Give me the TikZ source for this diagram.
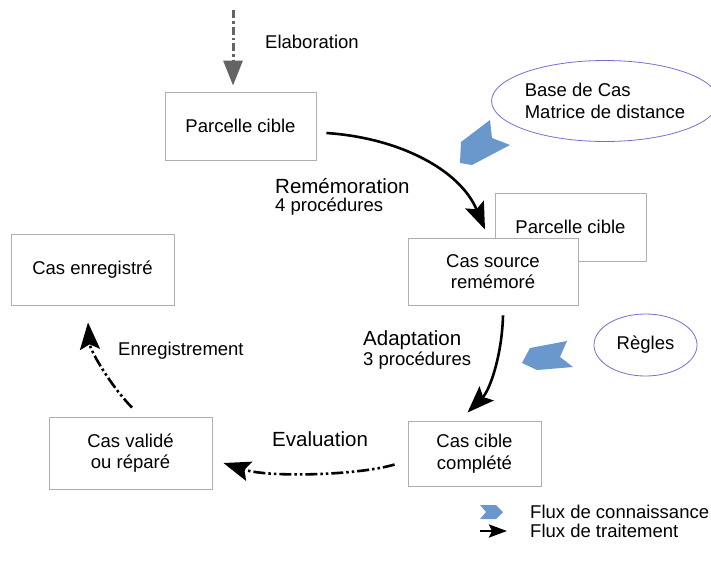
\documentclass[tikz,border=0pt]{standalone}
\usepackage{fontspec}
\setmainfont{Liberation Sans}
\usetikzlibrary{arrows.meta,shapes.geometric}
\definecolor{boxgray}{RGB}{175,175,175}
\definecolor{ellcol}{RGB}{120,110,210}
\definecolor{chev}{RGB}{106,152,205}
\definecolor{elabgray}{RGB}{100,100,100}
\tikzset{
  txt/.style={font=\fontsize{18.5}{21.5}\selectfont, text=black},
  bigtxt/.style={font=\fontsize{20.5}{23}\selectfont, text=black},
  procbox/.style={txt, draw=boxgray, line width=0.9pt, fill=white, rectangle, inner sep=0pt, align=center},
  knowell/.style={txt, draw=ellcol, line width=0.8pt, ellipse, inner sep=0pt},
  lbl/.style={inner sep=0pt, anchor=west, align=left},
  flow/.style={draw=black, line width=2.6pt, -{Stealth[length=27pt,width=20pt,inset=5pt]}},
  flowdash/.style={flow, dash pattern=on 12pt off 3pt on 2.5pt off 3pt on 2.5pt off 3pt},
  elab/.style={draw=elabgray, line width=3pt, dash pattern=on 8pt off 3pt on 2.5pt off 3pt,
    -{Triangle[length=25pt,width=19pt]}, elabgray},
  chevshape/.style={fill=chev, draw=none}
}
\begin{document}
\begin{tikzpicture}[x=1pt,y=-1pt]
\useasboundingbox (0,0) rectangle (711,562);
\fill[white] (0,0) rectangle (711,562);

% process boxes
\node[procbox, minimum width=151pt, minimum height=68pt] (pc1) at (240.5,126) {Parcelle cible};
\node[procbox, minimum width=163pt, minimum height=71pt] (enr) at (92.5,269.5) {Cas enregistré};
\node[procbox, minimum width=151pt, minimum height=68pt] (pc2) at (570.5,227) {Parcelle cible};
\node[procbox, minimum width=170pt, minimum height=67pt] (src) at (493,271.5) {Cas source\\remémoré};
\node[procbox, minimum width=133pt, minimum height=65pt] (cible) at (474.5,453.5) {Cas cible\\complété};
\node[procbox, minimum width=163pt, minimum height=72pt] (valid) at (130.5,453) {Cas validé\\ou réparé};

% knowledge ellipses
\node[knowell, minimum width=208pt, minimum height=81pt, align=left] (base) at (605,101) {Base de Cas\\Matrice de distance};
\node[knowell, minimum width=103pt, minimum height=62pt] (regles) at (645.5,345) {Règles};

% knowledge chevrons
\fill[chevshape] (461,142) -- (490,120) -- (492,138) -- (510,145) -- (472,165) -- (460,163) -- cycle;
\fill[chevshape] (522,363) -- (530,348) -- (567,341) -- (560,357) -- (573,367) -- (537,370) -- cycle;

% elaboration
\coordinate (e0) at (233,10);
\draw[elab, shorten >=6pt] (e0) -- (e0 |- pc1.north);
\node[lbl, txt] (elabl) at (265,42) {Elaboration};

% rememoration
\draw[flow] ([shift={(10,7)}]pc1.east) .. controls (400,138) and (460,170) .. ([shift={(-8,-8)}]src.north);
\node[lbl, bigtxt] (reml) at (275,186) {Remémoration};
\node[lbl, txt] (reml2) at (275,207) {4 procédures};

% adaptation
\draw[flow] ([shift={(10,10)}]src.south) .. controls (502,355) and (490,390) .. ([shift={(-7,-8)}]cible.north);
\node[lbl, bigtxt] (adal) at (363,340) {Adaptation};
\node[lbl, txt] (adal2) at (363,361) {3 procédures};

% evaluation
\draw[flowdash] ([shift={(-13,11)}]cible.west) .. controls (360,475) and (270,478) .. ([shift={(11,10)}]valid.east);
\node[lbl, bigtxt] (evall) at (272,439) {Evaluation};

% enregistrement
\draw[flowdash] ([shift={(1.5,-9)}]valid.north) .. controls (110,385) and (90,350) .. ([shift={(-4.5,17)}]enr.south);
\node[lbl, txt] (enrl) at (118,351) {Enregistrement};

% legend
\fill[chevshape] (480,505) -- (496,505) -- (503,512) -- (496,519) -- (480,519) -- (486,512) -- cycle;
\coordinate (l0) at (480,531);
\coordinate (l1) at (507,531);
\draw[draw=black, line width=2.6pt, -{Stealth[length=18pt,width=13pt,inset=3pt]}] (l0) -- (l1);
\node[lbl, txt] (leg1) at (530,512) {Flux de connaissance};
\node[lbl, txt] (leg2) at (530,531) {Flux de traitement};
\end{tikzpicture}
\end{document}
